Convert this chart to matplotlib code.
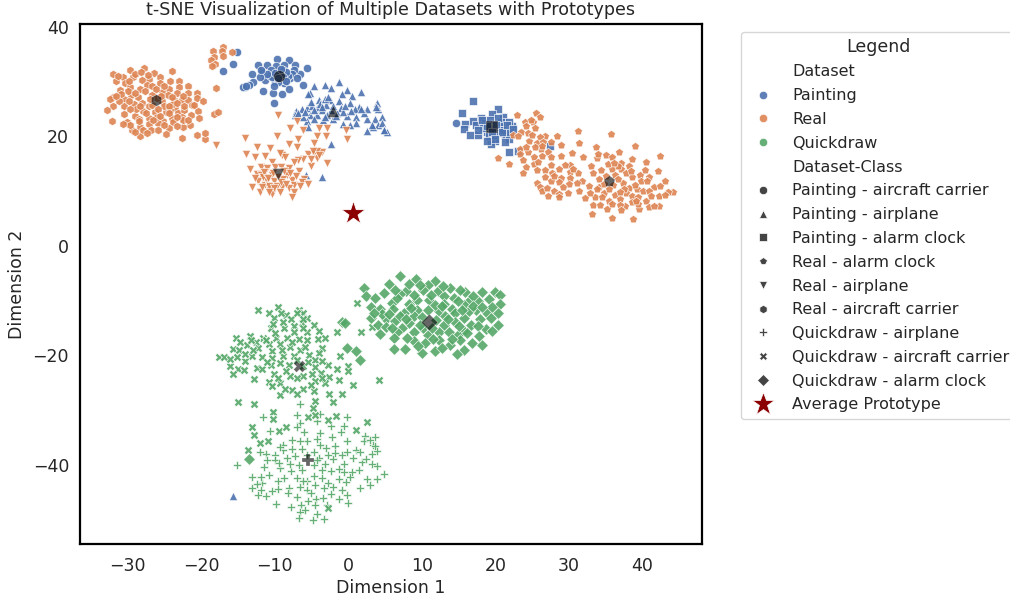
import numpy as np
import matplotlib
matplotlib.use("Agg")
import matplotlib.pyplot as plt
import seaborn as sns
from matplotlib.lines import Line2D

# values, (dim1, dim2)
painting_carrier = [(-15.1,35.5),(-15.6,33.2),(-17,31.9),(-9.7,34.2),(-8,34),(-12.3,33),(-11,33),(-9.8,32.8),(-8.7,33),(-7.2,33),
    (-5.6,32.5),(-13.1,31.4),(-11.7,31.7),(-10.5,32.2),(-8.8,32.1),(-6.5,31.4),(-7.4,32.1),(-11.3,30.4),(-7.9,30.6),(-10,30),
    (-12.9,29.9),(-13.5,29.4),(-14,29.1),(-6.1,29.4),(-8.7,29.7),(-11.6,28.3),(-10.2,28),(-9,27.8),(-8,28.6),(-10.1,26.2),
    (14.7,22.5),(-10.6,31),(-9.2,31.4),(-7.6,31.5),(-8.9,30.4),(-10.3,30.8),(-8.2,31),(-9.5,30),(-11,31.4),(-12,30.8),
    (-9.9,31.6),(-8.4,31.7),(-9.1,32.4),(-10.1,29.2),(-8.8,30.9),(-7,30.6),(-11.9,32.1),(-14.3,29.1),(-13.9,29.3),(-9.6,30.7),(-8.5,30.1)]
painting_airplane = [(-4.6,29.3),(-3.2,29.4),(-1.2,30),(-2.3,28.8),(-0.2,28.5),(1.8,28.1),(-5.2,27.9),(-0.9,27.8),(0.5,27.4),(-3.9,26.6),
    (-2.5,26.6),(-1.3,26.4),(0.3,26.1),(3.9,26.2),(-6.3,25.1),(-5.6,25.2),(-4.2,25.2),(-3,25.8),(-1,25.2),(1.5,25.4),
    (2.5,25.1),(4,25),(-7.1,24.7),(-4.9,25.6),(-3.6,24.9),(-5.2,24),(-4.2,24),(-7.2,24),(-0.2,23.8),(1,23.5),
    (2.6,23.2),(3.6,23.2),(4.6,23.5),(-2,23.2),(-3.4,23),(-5.6,22.9),(1.1,22.4),(-0.7,22.2),(0.3,22.1),(4,22),
    (3.4,21.8),(4.6,22.4),(-5.5,21.8),(2.5,21),(4.8,21.1),(5.3,20.8),(-2.4,18.6),(-5.7,13),(-3.5,12.5),(-2.4,24.9),
    (-1.5,24.3),(-6.2,23.6),(-4.6,23.2),(-2.9,24),(-0.7,24.5),(0.9,25),(2.1,24.3),(-3.8,26),(-5,26.3),(-15.7,-45.7),
    (-5.4,27.7),(-3.5,25.4),(-2,25.6),(-1.6,23.8),(-6.8,24.2),(-4.7,24.8),(-3.2,23.6),(-0.4,25.6),(0.4,24.7),(1.8,25),
    (3.8,25.4),(4.9,21.2),(3.2,22),(-3.1,26.8),(-5.9,24.5),(-2.7,27.2)]
painting_clock = [(16.9,26.5),(15.5,24.3),(20.4,25),(19.5,24.1),(21.1,23.5),(18,23.3),(17,22.9),(15.9,22.2),(15.7,21.3),(22.2,21.9),
    (21.8,22.7),(20.7,21.8),(17.3,22),(16.5,20.2),(17.7,20.3),(18.8,20.9),(21.3,20.3),(21.9,19.5),(20,19.1),(21.3,19),
    (19.4,18.6),(21.8,17.2),(23.1,17.4),(27.4,18.3),(19.1,20),(20.4,20.6),(18.6,22.4),(19.2,23),(20.8,22.6),(18.3,21.5),
    (19.8,20.3),(21,21.2),(17.6,21.2),(20.3,23.4),(22,20.8),(19.3,21.5),(18.9,21.9),(20.1,22),(19.6,20.9),(20.9,20.9),
    (18.2,23),(21.6,22.1),(19.9,19.6),(18.9,19.2),(22.4,21.4)]
real_clock = [(22.9,23.9),(25.5,24.2),(26,23.6),(25.1,22.6),(24,22.6),(24.1,21.9),(23.5,20.9),(24.4,20.6),(22.4,20.2),(23.1,20),
    (26.8,20.1),(26.1,19.9),(28.4,20.1),(31.2,21),(35.7,20.4),(24.6,19.1),(25.6,18.8),(26.5,18.9),(27.5,18.9),(28.9,18.4),
    (31.4,18.8),(33.6,18),(38.9,18.2),(23.4,17.7),(26.2,17.7),(23.4,16.8),(24.4,17.2),(25.4,18),(27.1,17.2),(28.9,16.4),
    (36.8,17.2),(42.3,16.5),(20.3,16),(23.7,15.7),(25.2,16.2),(26.3,16.4),(21.9,15),(31.9,16.3),(33.8,16),(35,16.6),
    (35.8,16.2),(25.3,14.9),(27.6,14.8),(30.2,14.8),(29.5,14.8),(24.2,14.4),(37,15.2),(38.5,15.9),(40.4,15.3),(25.6,13.9),
    (26.8,13.9),(28.7,14.1),(33,14.6),(35.9,14),(38.2,14.6),(23.7,13.4),(27.7,13.3),(30.2,13.5),(31.2,13.3),(34.3,13.8),
    (37.1,14),(42.1,13.7),(33.2,13.3),(39.7,13),(26.7,12.6),(28.9,12.4),(30.2,12.4),(34.1,12.2),(36.3,13),(38.6,12.5),
    (40.9,12.5),(27.6,11.9),(31.8,11.8),(37.3,11.5),(39.8,11.9),(40.6,11.8),(43.1,11.9),(25.7,11.5),(28.7,11.6),(31.1,11.5),
    (30,11.3),(32.7,11),(34.1,10.8),(36,11.2),(38.1,10.5),(39.2,10.4),(41.5,10.7),(42.3,10.9),(26,10.7),(28,10.1),
    (26.3,10),(31.3,10),(28.6,9.5),(29.8,9.6),(34.8,9.6),(36.2,9.3),(37.7,9.6),(40.1,10),(40.8,10.1),(44.1,9.9),
    (43.5,9.9),(27.2,9.1),(33.5,8.9),(32.9,9.6),(38.5,9.2),(42.2,9.1),(43.1,9.3),(28.6,8.9),(32.2,8.7),(34.5,9),
    (36.9,8.5),(39.4,9),(35.5,8.2),(38.5,8),(40.5,8.2),(33.2,7.5),(34.2,7.5),(35.1,6.8),(37.6,7.2),(39.5,6.7),
    (40.8,7.1),(42.2,7.3),(41.6,7.2),(33.1,5.9),(35.8,5.1),(38.7,4.9),(36.9,7.5),(39.4,7.7),(36.7,12.2),(35,12.7),(37.8,13.4),
    (25,20.3),(24.8,23),(25.4,21.6),(26.3,18.2),(24.1,18.1),(27.5,16.3),(25.8,15.4),(29.2,10.8),(27,10.5),(30.6,14),
    (35.3,14.9),(36.6,14.6),(34.8,11.3),(37.5,10.4),(38.9,11.2),(35.4,10.4),(36.9,9.9),(38.4,13.6),(39.1,8.2),(37,6.6),
    (35.9,7.6),(41.2,9.2),(40.3,13.8),(34,16.8),(36.1,15.2),(33.8,10.3),(30.4,16.9),(28,12.8)]
real_airplane = [(-9.6,24),(-7,22.9),(-7.9,21.5),(-6.1,21.1),(-3.9,21.6),(-2.9,21.6),(-0.3,21.1),(-14,19.7),(-9.7,20),(-6.8,19.6),
    (-4.3,20),(-3,20),(-0.1,19.6),(-17.9,18.4),(-12.4,18),(-10.6,17.9),(-8,18.6),(-7,18),(-4.6,18.8),(-13.9,16.7),
    (-12.6,16.3),(-11.3,16.5),(-9,16.6),(-8.6,16.3),(-5.4,16.8),(-4.7,16.8),(-3.6,17.1),(-4.2,16),(-6.2,15.8),(-6.8,15.6),
    (-7.4,15.4),(-2.9,15.1),(-10.4,15.4),(-13.4,14.1),(-11.8,14.4),(-11,14.2),(-9.9,14.4),(-9.1,14.4),(-8,14.3),(-5,14.6),
    (-6.7,13.6),(-12.4,13.2),(-11.8,13),(-10.4,12.9),(-8.3,12.9),(-11,11.9),(-10.1,11.9),(-7.6,12),(-6,12.3),(-12.2,11.8),
    (-11.3,11.2),(-9,10.8),(-7.4,11.2),(-6.3,11.6),(-5.4,11.3),(-13.1,10.7),(-12,9.8),(-10.6,10.2),(-10.4,9.5),(-8,10.5),
    (-7.3,9.8),(-7.6,9),(-9.7,10.9),(-8.9,12.3),(-11.6,12.6),(-10.8,10.9),(-4.3,17.4),(-9.3,16.9),
    (-11.4,13.5),(-10.9,12.4),(-9.6,12.5),(-9.1,11.6),(-10.2,13.4),(-8.7,13.7),(-7.1,12.7),(-6.6,11),(-11.7,10.8),(-10.1,10.6),
    (-12.7,12.4),(-9.3,9.9),(-8.5,11.3),(-7.9,13.3),(-10.8,9.8),(-5.1,15.9),(-4.8,17.3),(-4,16.6)]
real_carrier = [(-27.7,32.5),(-29.7,32.1),(-31.9,31.4),(-24,31.9),(-26.4,31.6),(-30.6,30.8),(-29.2,30.8),(-27.1,30.5),(-25.5,30.8),(-31.5,30.2),
    (-23,30.2),(-28,30.3),(-30.3,29.7),(-27.3,29.4),(-25.5,29.7),(-21.8,29.3),(-29.6,29),(-31,28.5),(-28.3,28.6),(-24.4,28.7),
    (-23,29.1),(-20.6,27.9),(-21.8,28),(-23.3,27.9),(-25.3,28.2),(-27.6,28.3),(-31.9,27.2),(-29.5,27.5),(-26.7,27.6),(-24.5,27.6),
    (-20.5,27.1),(-30.4,26.9),(-23.6,26.7),(-19.7,26.5),(-22.6,26.6),(-21.8,26.6),(-28,26.2),(-29.1,26),(-25.3,26.4),(-30.5,25.5),
    (-32,25.6),(-27,25.5),(-23.5,25.2),(-21.2,25.8),(-32.7,24.9),(-27.9,24.7),(-26.2,24.4),(-24.8,24.4),(-23.1,24.3),(-22.3,24.9),
    (-20.4,24.6),(-30.5,24.1),(-29,23.7),(-27.1,23.4),(-25.1,22.9),(-24,23.4),(-22.6,23.5),(-21.4,24),(-20.2,23.4),(-32.1,22.9),
    (-30.1,22.7),(-28.3,21.8),(-27,22.3),(-25.9,22.4),(-23.8,22.6),(-21.5,22.1),(-22.4,21.8),(-24.4,21.6),(-29.4,21.2),(-26.8,21.2),
    (-25.8,21.2),(-28.3,20),(-24.8,20.4),(-22.6,19.7),(-20.6,20.2),(-19.4,19.6),(-19.4,20.6),(-18,28.8),(-18.2,24.1),(-17.7,24.4),
    (-18.3,35.7),(-17,36.3),(-17.1,35.7),(-15.8,35.5),(-18.2,34.6),(-17,34.7),(-18.7,34),(-18.1,33.2),(-18.5,32.8),(-26,23.6),
    (-28.4,23.2),(-25,25.6),(-28.8,25),(-26,27.1),(-28.6,27.2),(-24.2,24.9),(-22.4,23),(-26.6,29.2),(-29.8,30.2),(-23.8,26),
    (-31.3,31),(-29,31.5),(-28.1,31.8),(-27.2,31.2),(-29.9,28.3),(-30.8,27.8),(-28.9,28),(-26.1,28.7),(-25,29.2),(-24.2,30.1),
    (-32.3,26.9),(-31.2,26.4),(-29.8,26.5),(-28.3,25.5),(-26.6,25.8),(-25.8,25.1),(-24.4,25.6),(-23.2,26.1),(-22.3,25.6),(-29.7,25),
    (-27.5,24.2),(-25.6,23.8),(-24.3,24.2),(-23.3,23.6),(-21.7,23),(-28.4,22.9),(-29.6,22.1),(-26.5,23),(-25,22),(-23.2,21.9),
    (-27.9,21.1),(-30.6,22.2),(-31.5,27.4),(-26.9,26.8),(-24,27.2),(-22.5,27.4),(-27.3,20.6),(-29,20.8),(-20.9,25.7),(-25.4,27.4)]
quick_airplane = [(-6.6,-28.9),(-7,-31),(-11.6,-31.2),(-0.1,-31.2),(-3.8,-30.8),(-4.3,-32),(-6.5,-32.4),(-0.5,-33),(-2.4,-33),(-10.6,-33.8),
    (-7,-33.1),(-6,-34.1),(-3.8,-34.3),(-7.6,-35.5),(-5.6,-35.7),(-4.3,-35.3),(-2.2,-35),(-0.2,-35.6),(2.3,-34.7),(3.6,-34.9),
    (-6.6,-35.7),(-8.8,-37.3),(-3.8,-36.4),(-1.8,-36.5),(3.4,-36.4),(2.1,-35.6),(-12,-37.6),(-10,-38.2),(-11.2,-38.1),(-7.2,-38.4),
    (-4.7,-37.6),(-2.8,-38.2),(-1.8,-37.9),(-0.1,-37.6),(1,-37.3),(1.6,-37.7),(3.2,-38.1),(3.9,-37.5),(-15.1,-40),(-11,-39.1),
    (-8.3,-38.8),(-3.9,-38.8),(-2.1,-39),(-0.9,-38.3),(0.6,-38.7),(-10,-39.2),(-0.6,-39.9),(-11.4,-40.4),(-9.2,-40.6),(-7.8,-41.1),
    (-6.3,-40.9),(-4.7,-40),(-3.6,-40.9),(-2.4,-41.1),(0.5,-41.3),(1.5,-41),(3.2,-39.9),(3.9,-40.3),(4.9,-41.7),(-10.8,-41.9),
    (-7,-42.4),(-4.7,-42.1),(-0.6,-41.4),(2.5,-42.6),(-0.3,-43.1),(-13,-42.3),(-11.7,-43.4),(-8.1,-44.2),(-4.5,-43.7),(3,-43.7),
    (3.9,-42.7),(-1.3,-42.7),(-12.4,-43.5),(-9.6,-44.4),(-6.5,-44),(-5.6,-44.6),(-3.3,-44.3),(-0.8,-44.6),(1.6,-44.3),(-12.3,-45.5),
    (-11.2,-45.8),(-7,-46),(-4.4,-46.3),(-2.4,-45.3),(-0.1,-45.5),(-1.3,-46.3),(0,-47),(-9.8,-47.1),(-5.5,-46.7),(-7.8,-47.8),
    (-6.4,-47.4),(-4.5,-47.4),(-6.5,-48.7),(-4.2,-49.1),(-6.7,-49.8),(-4.8,-50.2),(-3.3,-50),(-8.9,-36.4),(-9.5,-42.9),(-5.6,-43),(-2.7,-43.4),
    (-6.3,-37.1),(-5.6,-38.2),(-7.9,-39.8),(-6.7,-40.1),(-4.2,-39.2),(-3.1,-39.9),(-1.2,-40.7),(1.9,-39.5),(-8.7,-42.5),(-6.1,-42.9),
    (-3.6,-42.4),(-2.1,-44),(-8.2,-45.1),(-5,-45.2),(-3.4,-46.1),(-11.9,-44.6),(-10.4,-44.9),(-13,-44.2),(-9.3,-36.8),(-1,-34.1),
    (-7.6,-37.2),(-3,-36.9),(2.9,-35.5),(3.7,-36.6),(-9.4,-39.7),(-11.9,-42.2),(0.2,-42.2),(2.4,-38.9),(-2.9,-47.3),(-5.8,-48.3)]
quick_carrier = [(-12.3,-11.7),(-9.6,-11.2),(-10.8,-12.2),(-10.1,-13.2),(-8.5,-12.7),(-7.7,-13.4),(-6.7,-11.7),(-6.1,-12.3),(-5.6,-13.2),(-6.3,-14.1),
    (-4.7,-14.4),(1.2,-10.5),(-4,-15.5),(-1.5,-15.8),(1.8,-15.8),(3.2,-14.9),(-10.5,-15.1),(-8.7,-15.1),(-7.4,-14.6),(-5.6,-15.7),
    (-13.4,-16.4),(-15.2,-16.9),(-14.7,-17.5),(-11.6,-16.8),(-9.8,-16.8),(-8.3,-16.9),(-6.7,-17),(-5.6,-17.2),(-4.1,-17.1),(-3.1,-16.9),
    (-13.8,-18.2),(-12.5,-17.5),(-10.8,-18),(-9.2,-18),(-7.9,-18.4),(-15.7,-18.9),(-12.3,-18.7),(-14.8,-19),(-10.4,-19.3),(-6.5,-19),
    (-3.5,-18.7),(-1.1,-20.1),(-17.6,-20.3),(-16.9,-20.4),(-15.1,-20.4),(-13,-20.1),(-11.7,-20.4),(-10.4,-20.5),(-8.9,-20.1),(-7.4,-20.2),
    (-5.3,-19.9),(-4,-19.6),(-14,-21),(-4.5,-20.8),(-16.1,-21.9),(-14.9,-22.5),(-14.2,-22.7),(-12.4,-22.4),(-11.7,-22.5),(-10.5,-21.8),
    (-9.2,-21.5),(-8.1,-21.8),(-4.5,-22.1),(-2.7,-21.8),(-1.5,-22.6),(0,-21.9),(0,-22.9),(-15.7,-23.5),(-10.1,-23.4),(-7.9,-23.8),
    (-6.1,-23.8),(-4.9,-23.4),(-3.7,-23.2),(-2.6,-23.9),(-12.8,-24.3),(-6.9,-24.2),(-4.5,-24.7),(-3.1,-25),(-1.2,-24.6),(0.7,-25.4),
    (4.2,-24.6),(-10.8,-24.9),(-9.2,-25.1),(-10.4,-25.7),(-7.6,-26.3),(-6.1,-26.1),(-9.2,-27.2),(-7,-27.1),(-4.7,-26.6),(-2.6,-27.1),
    (-0.8,-27),(-4.5,-28.3),(-14.9,-28.5),(-12.8,-29),(-2,-28.6),(-5.5,-31.2),(-4.5,-31),(-1.7,-31.1),(2.6,-32.2),(1.1,-33.6),
    (-2.8,-31.9),(-10.2,-30.4),(-10.2,-31.6),(-13,-33.2),(-13.6,-37.4),(-12.8,-34.6),(-9.4,-33.9),(-8.4,-33.2),(-12,-36.1),(-10.9,-35.6),(-2.7,-48),
    (-9.1,-12.3),(-8.9,-14),(-9.9,-15.9),(-7.3,-15.8),(-6.1,-15),(-7,-12.2),(-11.1,-17.3),(-9,-19.1),(-7.6,-17.6),(-6.9,-20.9),
    (-5.9,-18.5),(-12.9,-19),(-14,-19.8),(-16,-20.7),(-11,-21.2),(-8.4,-22.8),(-6.2,-22),(-5.4,-21.3),(-3.6,-21),(-9.6,-24.1),
    (-5.1,-25.4),(-3.6,-24.1),(-8.6,-26.1),(-4.8,-29.6),(-6.1,-13.3),(-13.2,-17.2),(-10.2,-14.3)]
quick_clock = [(7.1,-5.5),(9.2,-6),(5.6,-7),(11.8,-6.5),(2.1,-7.7),(13.8,-7.7),(10.8,-7.1),(7.9,-8.2),(10.2,-8.1),(12.2,-8.2),
    (15.9,-8.5),(18.2,-8.5),(19.9,-8.4),(4.8,-8.7),(7,-8.8),(2.4,-9.1),(13,-9.1),(15.2,-8.1),(3.7,-9.6),(9.3,-9.9),
    (11,-9.9),(14.4,-9.6),(16.4,-10),(17.7,-10),(19.1,-9.8),(20.6,-9),(5.9,-10.5),(8.2,-10.6),(13,-10.6),(15.8,-10.9),
    (20.6,-10.7),(3.1,-11.2),(4.3,-11.6),(6.1,-11.6),(9.4,-11.7),(10.8,-11.7),(14.1,-11.6),(17.4,-11.7),(7.6,-12.3),(12.4,-12),
    (15.7,-13.2),(14.5,-12.3),(18.8,-12.3),(20.4,-12.3),(9,-12.9),(5.1,-13.4),(3.1,-13.2),(6.4,-13.7),(13.2,-12.9),(17.9,-13.4),
    (14.5,-14),(8.2,-14.1),(20.3,-14.4),(4,-14.4),(16.7,-14.4),(5.2,-14.9),(7.3,-15.1),(13,-14.4),(18.7,-15.2),(9,-15.8),
    (12.4,-15.7),(13.7,-15.8),(15.7,-15.5),(4.3,-16.1),(6.7,-15.8),(10.9,-16.3),(14.9,-16.3),(6.2,-16.8),(8.9,-17.4),(12.4,-17.2),
    (16.8,-17.7),(10.4,-17.8),(13.9,-18.1),(18.2,-18.1),(15.7,-19),(6.2,-18.8),(7.7,-18.8),(11.8,-19.3),(10,-19.5),(14.8,-19.8),
    (-0.2,-18.7),(1,-19.2),(1.6,-20.8),(-0.9,-14),(-0.4,-14.1),(-13.5,-38.9),(6.6,-9.6),(8.9,-9),(11.8,-10.8),(16.4,-12),
    (19.6,-11.2),(10.2,-15),(7.1,-12.9),(15.2,-17.3),(17,-9.2),(11.9,-13.5),(4.6,-12.4),
    (8.3,-6.9),(6.3,-8),(9.8,-7.2),(12.9,-7.3),(11.2,-8.9),(14.9,-10),(16.9,-11),(18.2,-11.2),(19.4,-13.2),(17.6,-14.6),
    (15.4,-11.8),(12.7,-11),(10,-13),(8.5,-11.4),(5.6,-12.5),(7.8,-13.3),(9.7,-14.4),(11.4,-15),(13.5,-13.3),(15,-14.6),
    (16.2,-16),(17.8,-16.4),(19.5,-15.6),(3.5,-12.2),(6,-15.1),(8,-16.8),(11.5,-17),(14.1,-17.1),(9.5,-18.3),(12.8,-18.6)]

class_names = ["Painting - aircraft carrier", "Painting - airplane", "Painting - alarm clock",
               "Real - alarm clock", "Real - airplane", "Real - aircraft carrier",
               "Quickdraw - airplane", "Quickdraw - aircraft carrier", "Quickdraw - alarm clock"]
class_points = [painting_carrier, painting_airplane, painting_clock, real_clock, real_airplane,
                real_carrier, quick_airplane, quick_carrier, quick_clock]
prototypes = [(-9.4,31.1),(-2.1,24.6),(19.6,21.8),(35.5,11.9),(-9.5,13.1),(-26.1,26.6),(-5.5,-39.1),(-6.7,-22),(11,-14)]
average_prototype = (0.7,6)
datasets = ["Painting", "Real", "Quickdraw"]

sns.set_theme(style="white", palette="deep", font_scale=1.1)
plt.rcParams['font.family'] = ['DejaVu Sans']
deep = sns.color_palette("deep")
class_colors = [deep[0]]*3 + [deep[1]]*3 + [deep[2]]*3
class_markers = ['o', '^', 's', 'p', 'v', 'h', 'P', 'X', 'D']

fig = plt.figure(figsize=(10.1, 6.02), dpi=100)
ax = fig.add_axes([79.5/1010, 1-544/602, 622/1010, 520/602])

for pts, col, mk in zip(class_points, class_colors, class_markers):
    arr = np.array(pts)
    size = 38 if mk in ('P', 'X') else 36
    ax.scatter(arr[:, 0], arr[:, 1], c=[col], marker=mk, s=size, edgecolors='white', linewidths=0.5, alpha=0.9)

for (px, py), mk in zip(prototypes, class_markers):
    ax.scatter(px, py, c='black', marker=mk, s=72, edgecolors='white', linewidths=0.3, alpha=0.6, zorder=4)
ax.scatter(*average_prototype, c='darkred', marker='*', s=320, edgecolors='white', linewidths=0.6, zorder=5)

ax.set_xlim(-36.5, 48)
ax.set_ylim(-54.5, 40.55)
ax.set_xticks([-30, -20, -10, 0, 10, 20, 30, 40])
ax.set_yticks([-40, -20, 0, 20, 40])
ax.set_title("t-SNE Visualization of Multiple Datasets with Prototypes", fontsize=12.6, pad=6.5)
ax.tick_params(axis='x', labelsize=12.5, length=0, pad=9.5)
ax.tick_params(axis='y', labelsize=12.5, length=0, pad=7.5)
ax.set_xlabel("Dimension 1", fontsize=12.5, labelpad=2.5)
ax.set_ylabel("Dimension 2", fontsize=12.5, labelpad=4.5)
for s in ax.spines.values():
    s.set_edgecolor('black')
    s.set_linewidth(1.6)

handles = [Line2D([], [], linestyle='none', label="Dataset")]
for name, col in zip(datasets, deep):
    handles.append(Line2D([], [], linestyle='none', marker='o', color=col, markersize=6, markeredgecolor='white', markeredgewidth=0.5, alpha=0.9, label=name))
handles.append(Line2D([], [], linestyle='none', label="Dataset-Class"))
for name, mk in zip(class_names, class_markers):
    handles.append(Line2D([], [], linestyle='none', marker=mk, color='#444444', markersize=6, markeredgecolor='white', markeredgewidth=0.5, label=name))
handles.append(Line2D([], [], linestyle='none', marker='*', color='darkred', markersize=17, markeredgecolor='white', markeredgewidth=0.5, label="Average Prototype"))
leg = ax.legend(handles=handles, title="Legend", loc='upper left', bbox_to_anchor=(741/1010, 1-32/602),
                bbox_transform=fig.transFigure, fontsize=11.5, title_fontsize=12.5, borderaxespad=0,
                labelspacing=0.55, handletextpad=0.8, borderpad=0.4)
# title sits a bit closer to the first row in the reference
leg._legend_box.sep = 5.8

fig.savefig("out.png", dpi=100)
